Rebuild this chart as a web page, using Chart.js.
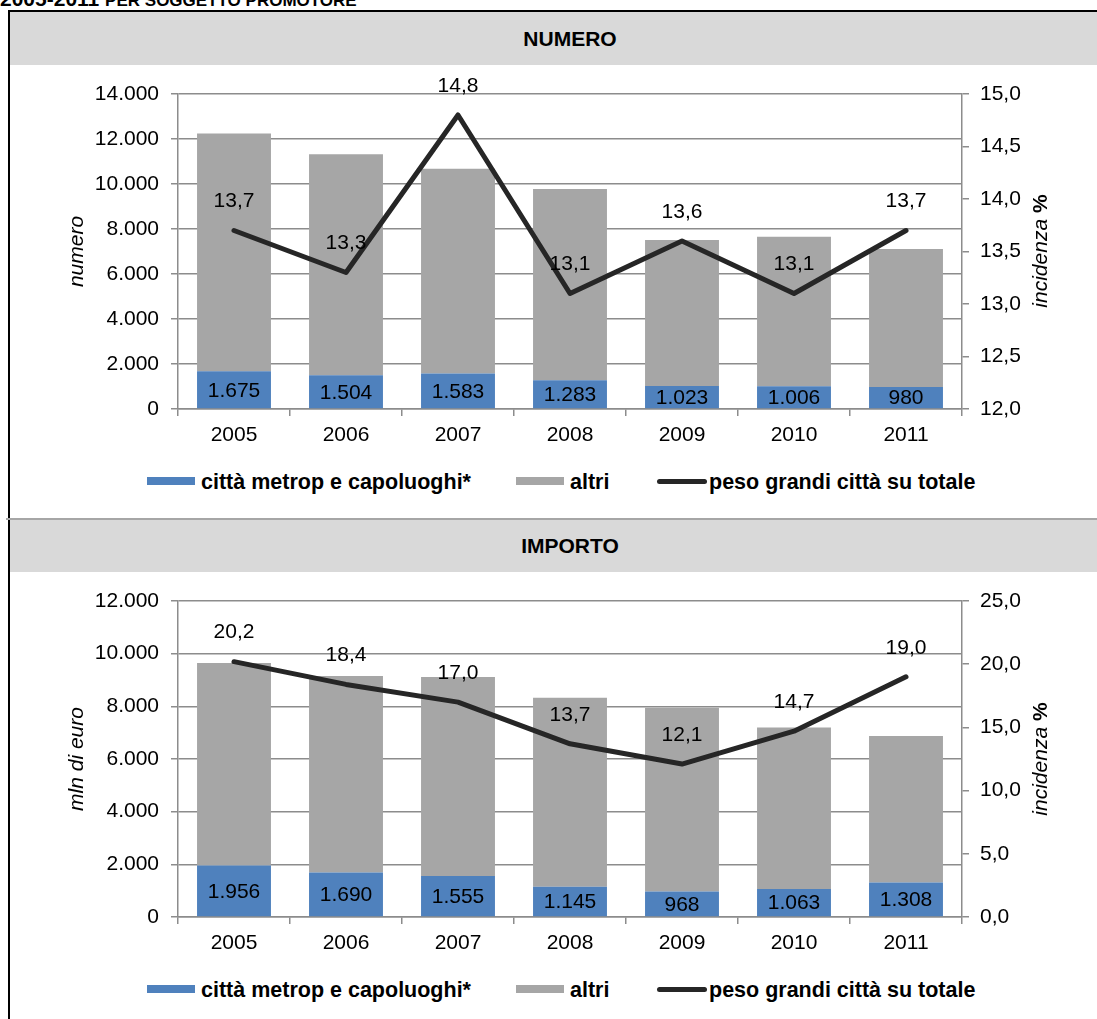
<!DOCTYPE html>
<html>
<head>
<meta charset="utf-8">
<script src="https://cdn.jsdelivr.net/npm/chart.js@4.4.1/dist/chart.umd.min.js"></script>
<style>
  html, body { margin: 0; padding: 0; background: #fff; }
  body { width: 1097px; height: 1019px; overflow: hidden; position: relative;
         font-family: "Liberation Sans", Arial, sans-serif; color: #000; }
  .pagetitle { position: absolute; left: 0; top: -13px; font-weight: bold; font-size: 21px; white-space: nowrap; }
  .pagetitle small { font-size: 17px; }
  .frameLeft { position: absolute; left: 8px; top: 10px; width: 2px; height: 1009px; background: #000; }
  .frameTop { position: absolute; left: 8px; top: 10px; width: 1100px; height: 2px; background: #000; }
  .sep { position: absolute; left: 6px; top: 518px; width: 1100px; height: 2px; background: #a6a6a6; }
  .band { position: absolute; left: 10px; width: 1120px; background: #d9d9d9;
          text-align: center; font-weight: bold; font-size: 21px; }
  canvas { position: absolute; left: 10px; }
  .legend { position: absolute; left: 0; width: 1097px; height: 24px; font-weight: bold; font-size: 21.5px; }
  .item { position: absolute; top: 0; height: 24px; line-height: 24px; white-space: nowrap; }
  .sw { display: inline-block; width: 48px; height: 8px; vertical-align: middle; margin-right: 6px; position: relative; top: -2px; }
  .swline { display: inline-block; width: 50px; height: 5px; border-radius: 3px; background: #262626; vertical-align: middle; margin-right: 2px; position: relative; top: -2px; }
  .rtitle { position: absolute; width: 200px; height: 24px; line-height: 24px; text-align: center;
            font-size: 21px; transform: rotate(-90deg); white-space: nowrap; }
  .rtitle i { font-style: italic; }
  .rtitle b { font-weight: bold; }
</style>
</head>
<body>
<div class="pagetitle">2005-2011 <small>PER SOGGETTO PROMOTORE</small></div>
<div class="frameLeft"></div>
<div class="frameTop"></div>

<div class="band" style="top:12px;height:53px;line-height:53px;">NUMERO</div>
<canvas id="chartNumero" width="1087" height="392" style="top:65px;"></canvas>
<div class="rtitle" style="left:940px;top:239px;"><i>incidenza</i> <b>%</b></div>
<div class="legend" style="top:470px;">
  <div class="item" style="left:147px;"><span class="sw" style="background:#4f81bd"></span>città metrop e capoluoghi*</div>
  <div class="item" style="left:516px;"><span class="sw" style="background:#a6a6a6"></span>altri</div>
  <div class="item" style="left:657px;"><span class="swline"></span>peso grandi città su totale</div>
</div>

<div class="sep"></div>
<div class="band" style="top:520px;height:52px;line-height:52px;">IMPORTO</div>
<canvas id="chartImporto" width="1087" height="393" style="top:572px;"></canvas>
<div class="rtitle" style="left:940px;top:747px;"><i>incidenza</i> <b>%</b></div>
<div class="legend" style="top:978px;">
  <div class="item" style="left:147px;"><span class="sw" style="background:#4f81bd"></span>città metrop e capoluoghi*</div>
  <div class="item" style="left:516px;"><span class="sw" style="background:#a6a6a6"></span>altri</div>
  <div class="item" style="left:657px;"><span class="swline"></span>peso grandi città su totale</div>
</div>

<script>
// categories
const years = ["2005", "2006", "2007", "2008", "2009", "2010", "2011"];

// NUMERO
const numeroCapoluoghi = [1675, 1504, 1583, 1283, 1023, 1006, 980];
const numeroAltri = [10575, 9816, 9097, 8497, 6487, 6654, 6130];
const numeroPeso = [13.7, 13.3, 14.8, 13.1, 13.6, 13.1, 13.7];

// IMPORTO (mln di euro)
const importoCapoluoghi = [1956, 1690, 1555, 1145, 968, 1063, 1308];
const importoAltri = [7694, 7460, 7555, 7185, 6982, 6137, 5562];
const importoPeso = [20.2, 18.4, 17.0, 13.7, 12.1, 14.7, 19.0];

const BLUE = "#4f81bd";
const GRAY = "#a6a6a6";
const LINE = "#262626";
const GRID = "#8c8c8c";

Chart.defaults.font.family = '"Liberation Sans", Arial, sans-serif';
Chart.defaults.font.size = 21;
Chart.defaults.color = "#000";

function fmtInt(v) {
    return String(Math.round(v)).replace(/\B(?=(\d{3})+(?!\d))/g, ".");
}
function fmtDec(v) {
    return Number(v).toFixed(1).replace(".", ",");
}

// data labels: blue segment values centred, line values above the points
const valueLabels = {
    id: "valueLabels",
    afterDatasetsDraw(chart) {
        const ctx = chart.ctx;
        ctx.save();
        ctx.font = '21px "Liberation Sans", Arial, sans-serif';
        ctx.fillStyle = "#000";
        ctx.textAlign = "center";
        ctx.textBaseline = "middle";
        chart.getDatasetMeta(0).data.forEach((bar, i) => {
            ctx.fillText(fmtInt(chart.data.datasets[0].data[i]), bar.x, (bar.y + bar.base) / 2 + 1);
        });
        chart.getDatasetMeta(2).data.forEach((pt, i) => {
            ctx.fillText(fmtDec(chart.data.datasets[2].data[i]), pt.x, pt.y - 29);
        });
        ctx.restore();
    }
};

function makeChart(id, blue, gray, peso, yMax, y1Min, y1Max, y1Step, yTitle) {
    const ctx = document.getElementById(id).getContext("2d");
    return new Chart(ctx, {
        type: "bar",
        data: {
            labels: years,
            datasets: [
                {
                    label: "città metrop e capoluoghi*",
                    data: blue,
                    backgroundColor: BLUE,
                    yAxisID: "y",
                    stack: "s",
                    order: 1,
                    barPercentage: 0.66,
                    categoryPercentage: 1
                },
                {
                    label: "altri",
                    data: gray,
                    backgroundColor: GRAY,
                    yAxisID: "y",
                    stack: "s",
                    order: 1,
                    barPercentage: 0.66,
                    categoryPercentage: 1
                },
                {
                    type: "line",
                    label: "peso grandi città su totale",
                    data: peso,
                    borderColor: LINE,
                    borderWidth: 5,
                    pointRadius: 0,
                    tension: 0,
                    borderCapStyle: "round",
                    borderJoinStyle: "round",
                    fill: false,
                    yAxisID: "y1",
                    order: 0
                }
            ]
        },
        options: {
            responsive: false,
            animation: false,
            devicePixelRatio: 1,
            layout: { padding: { top: 29, left: 0, right: 0, bottom: 0 } },
            plugins: {
                legend: { display: false },
                tooltip: { enabled: false }
            },
            scales: {
                x: {
                    stacked: true,
                    grid: {
                        offset: true,
                        drawOnChartArea: false,
                        drawTicks: true,
                        tickLength: 7,
                        color: GRID,
                        lineWidth: 1.5
                    },
                    border: { color: GRID, width: 1.5 },
                    ticks: { padding: 7 },
                    afterFit: scale => { scale.height = 48; }
                },
                y: {
                    stacked: true,
                    position: "left",
                    min: 0,
                    max: yMax,
                    ticks: {
                        stepSize: 2000,
                        padding: 12,
                        callback: v => fmtInt(v)
                    },
                    grid: { color: GRID, lineWidth: 1.5, tickLength: 7 },
                    border: { color: GRID, width: 1.5 },
                    title: {
                        display: true,
                        text: yTitle,
                        font: { size: 21, style: "italic" },
                        padding: { top: 55, bottom: 0 }
                    },
                    afterFit: scale => { scale.width = 168; }
                },
                y1: {
                    position: "right",
                    min: y1Min,
                    max: y1Max,
                    ticks: {
                        stepSize: y1Step,
                        padding: 11,
                        callback: v => fmtDec(v)
                    },
                    grid: { drawOnChartArea: false, color: GRID, lineWidth: 1.5, tickLength: 7 },
                    border: { color: GRID, width: 1.5 },
                    afterFit: scale => { scale.width = 135; }
                }
            }
        },
        plugins: [valueLabels]
    });
}

makeChart("chartNumero", numeroCapoluoghi, numeroAltri, numeroPeso, 14000, 12, 15, 0.5, "numero");
makeChart("chartImporto", importoCapoluoghi, importoAltri, importoPeso, 12000, 0, 25, 5, "mln di euro");
</script>
</body>
</html>
